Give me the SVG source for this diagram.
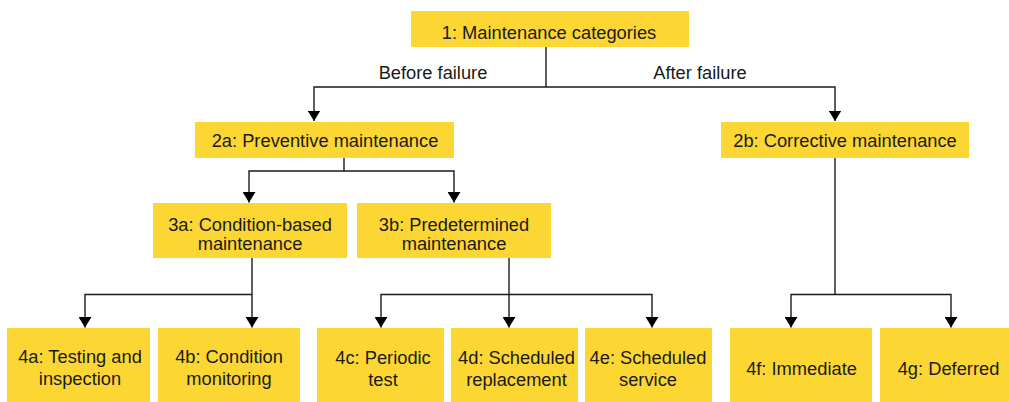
<svg xmlns="http://www.w3.org/2000/svg" width="1009" height="402" viewBox="0 0 1009 402">
  <style>
    .box { fill: #FCD734; }
    .lbl { font-family: "Liberation Sans", Arial, sans-serif; font-size: 18.3px; fill: #1a1a1a; text-anchor: middle; }
    .edge { fill: none; stroke: #1a1a1a; stroke-width: 1.4; }
    .tip { stroke: none; fill: #000; }
  </style>
  <defs>
    <marker id="arrow" markerUnits="userSpaceOnUse" markerWidth="13" markerHeight="11" viewBox="0 0 13 11" refX="6.5" refY="10.5" orient="0">
      <path class="tip" d="M0,0 L13,0 L6.5,10.5 Z"/>
    </marker>
  </defs>
  <rect width="1009" height="402" fill="#ffffff"/>

  <!-- connectors -->
  <g id="connectors">
    <!-- 1 -> 2a / 2b -->
    <path class="edge" d="M546,47 V87"/>
    <path class="edge" d="M546,87 H314 V121" marker-end="url(#arrow)"/>
    <path class="edge" d="M546,87 H835 V121" marker-end="url(#arrow)"/>
    <!-- 2a -> 3a / 3b -->
    <path class="edge" d="M344,158 V171"/>
    <path class="edge" d="M344,171 H249 V202.5" marker-end="url(#arrow)"/>
    <path class="edge" d="M344,171 H454 V202.5" marker-end="url(#arrow)"/>
    <!-- 3a -> 4a / 4b -->
    <path class="edge" d="M252,258 V327.5" marker-end="url(#arrow)"/>
    <path class="edge" d="M252,294.5 H85 V327.5" marker-end="url(#arrow)"/>
    <!-- 3b -> 4c / 4d / 4e -->
    <path class="edge" d="M509,258 V327.5" marker-end="url(#arrow)"/>
    <path class="edge" d="M509,294.5 H381 V327.5" marker-end="url(#arrow)"/>
    <path class="edge" d="M509,294.5 H652 V327.5" marker-end="url(#arrow)"/>
    <!-- 2b -> 4f / 4g -->
    <path class="edge" d="M835,158 V294.5"/>
    <path class="edge" d="M835,294.5 H791 V327.5" marker-end="url(#arrow)"/>
    <path class="edge" d="M835,294.5 H951 V327.5" marker-end="url(#arrow)"/>
    <text class="lbl" x="433" y="79">Before failure</text>
    <text class="lbl" x="700" y="79">After failure</text>
  </g>

  <g id="n1">
    <rect class="box" x="411" y="11" width="278" height="36"/>
    <text class="lbl" x="549" y="38.5">1: Maintenance categories</text>
  </g>
  <g id="n2a">
    <rect class="box" x="195" y="122" width="259" height="36"/>
    <text class="lbl" x="325" y="147">2a: Preventive maintenance</text>
  </g>
  <g id="n2b">
    <rect class="box" x="721" y="122" width="248" height="36"/>
    <text class="lbl" x="845" y="147">2b: Corrective maintenance</text>
  </g>
  <g id="n3a">
    <rect class="box" x="153" y="203" width="194" height="55"/>
    <text class="lbl" x="250" y="230.5">3a: Condition-based</text>
    <text class="lbl" x="250" y="250">maintenance</text>
  </g>
  <g id="n3b">
    <rect class="box" x="357" y="203" width="194" height="55"/>
    <text class="lbl" x="454" y="230.5">3b: Predetermined</text>
    <text class="lbl" x="454" y="250">maintenance</text>
  </g>
  <g id="n4a">
    <rect class="box" x="7" y="328" width="143" height="76"/>
    <text class="lbl" x="80" y="363">4a: Testing and</text>
    <text class="lbl" x="80" y="385">inspection</text>
  </g>
  <g id="n4b">
    <rect class="box" x="158" y="328" width="142" height="76"/>
    <text class="lbl" x="229" y="363">4b: Condition</text>
    <text class="lbl" x="229" y="385">monitoring</text>
  </g>
  <g id="n4c">
    <rect class="box" x="317" y="328" width="127" height="76"/>
    <text class="lbl" x="383" y="364">4c: Periodic</text>
    <text class="lbl" x="383" y="386">test</text>
  </g>
  <g id="n4d">
    <rect class="box" x="451" y="328" width="127" height="76"/>
    <text class="lbl" x="516.5" y="364">4d: Scheduled</text>
    <text class="lbl" x="516.5" y="386">replacement</text>
  </g>
  <g id="n4e">
    <rect class="box" x="585" y="328" width="127" height="76"/>
    <text class="lbl" x="648" y="364">4e: Scheduled</text>
    <text class="lbl" x="648" y="386">service</text>
  </g>
  <g id="n4f">
    <rect class="box" x="730" y="328" width="142" height="76"/>
    <text class="lbl" x="801.5" y="375">4f: Immediate</text>
  </g>
  <g id="n4g">
    <rect class="box" x="880" y="328" width="132" height="76"/>
    <text class="lbl" x="948.5" y="375">4g: Deferred</text>
  </g>
</svg>
